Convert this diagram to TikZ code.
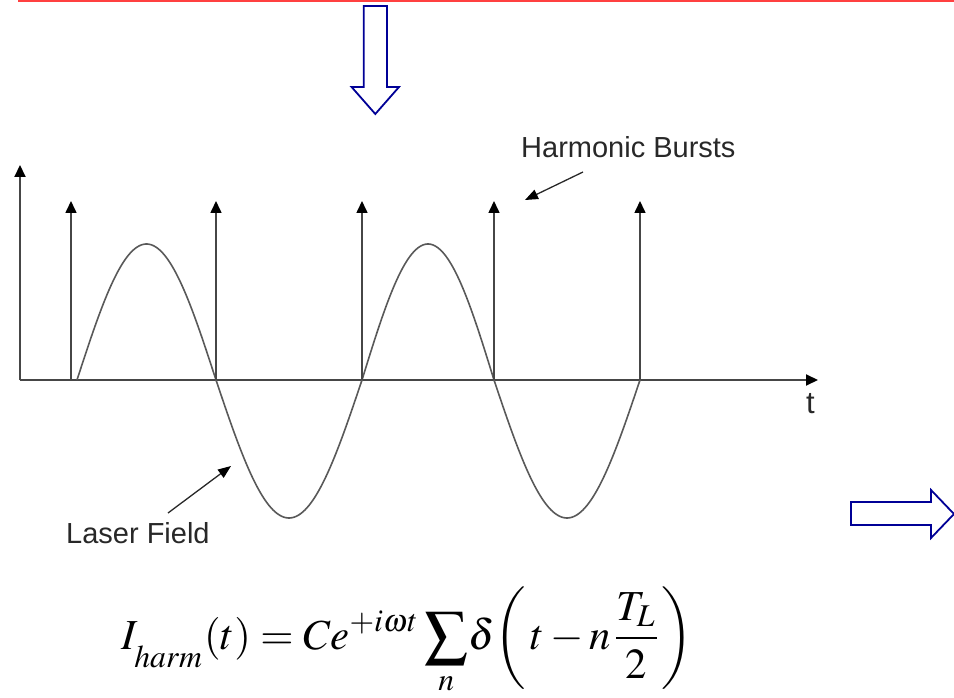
\documentclass[tikz,border=0pt]{standalone}
\usepackage{mathptmx}
\usepackage[no-math]{fontspec}
\usepackage{graphicx}
\usetikzlibrary{arrows.meta}
\newfontfamily\labelfont{Liberation Sans}
\definecolor{navyarrow}{RGB}{0,0,150}
\definecolor{redline}{RGB}{255,64,64}
\definecolor{axisgray}{RGB}{70,70,70}
\definecolor{textgray}{RGB}{40,40,40}
\tikzset{
  bluearrow/.style={draw=navyarrow, fill=white, line width=1.8pt, line join=miter},
  axisline/.style={draw=axisgray, line width=2pt},
  burst/.style={draw=axisgray, line width=1.6pt, -{Triangle[length=12pt,width=11pt,color=black]}},
  wave/.style={draw=axisgray!90, line width=1.6pt},
  pointer/.style={draw=textgray, line width=1.3pt, -{Triangle[length=13pt,width=10pt,color=black]}},
  lbl/.style={font=\labelfont\fontsize{29}{34}\selectfont, text=textgray, inner sep=0pt}
}
\begin{document}
\begin{tikzpicture}[x=1pt,y=-1pt]
\useasboundingbox (0,0) rectangle (954,698);
% red top line
\coordinate (rl) at (18,1);
\coordinate (rr) at (954,1);
\draw[redline, line width=2pt] (rl) -- (rr);
% block arrows
\draw[bluearrow] (363.7,6) -- (386.9,6) -- (386.9,87) -- (399,87) -- (375.3,114) -- (351.6,87) -- (363.7,87) -- cycle;
\draw[bluearrow] (851,502) -- (931,502) -- (931,490) -- (954,514) -- (931,538) -- (931,525) -- (851,525) -- cycle;
% axes
\coordinate (O) at (20,380);
\coordinate (ytop) at (20,165);
\coordinate (xend) at (818,380);
\draw[axisline, -{Triangle[length=12pt,width=11pt,color=black]}] (O) -- (ytop);
\draw[axisline, -{Triangle[length=12pt,width=11pt,color=black]}] (O) -- (xend);
% laser field
\draw[wave] plot[domain=77:216, samples=70] (\x, {380-136*sin((\x-77)/139*180)})
  -- plot[domain=216:362, samples=70] (\x, {380+138*sin((\x-216)/146*180)})
  -- plot[domain=362:494, samples=70] (\x, {380-136*sin((\x-362)/132*180)})
  -- plot[domain=494:640, samples=70] (\x, {380+138*sin((\x-494)/146*180)});
% harmonic bursts
\foreach \i/\xx in {1/71,2/216,3/362,4/494,5/640} {
  \coordinate (b\i) at (\xx,380);
  \coordinate (bt\i) at (\xx,201);
  \draw[burst] (b\i) -- (bt\i);
}
% labels
\node[lbl, anchor=base west] (hb) at (521,158) {Harmonic Bursts};
\coordinate (hbs) at (583,172);
\coordinate (hbe) at (525,200);
\draw[pointer] (hbs) -- (hbe);
\node[lbl, anchor=base west] (lf) at (66,543) {Laser Field};
\coordinate (lfs) at (168,513);
\coordinate (lfe) at (231,466);
\draw[pointer] (lfs) -- (lfe);
\node[lbl, anchor=base west, font=\labelfont\fontsize{31}{36}\selectfont] (tl) at (806,413) {t};
% formula
\node[anchor=base west, inner sep=0pt] (eq) at (121,649)
  {\resizebox*{572pt}{108pt}{$\displaystyle I_{\raisebox{-0.28em}{$\scriptstyle harm$}}(t) = Ce^{+i\omega t}\sum_n\!\delta\!\left(\,t - n\frac{T_L}{2}\right)$}};
\end{tikzpicture}
\end{document}
